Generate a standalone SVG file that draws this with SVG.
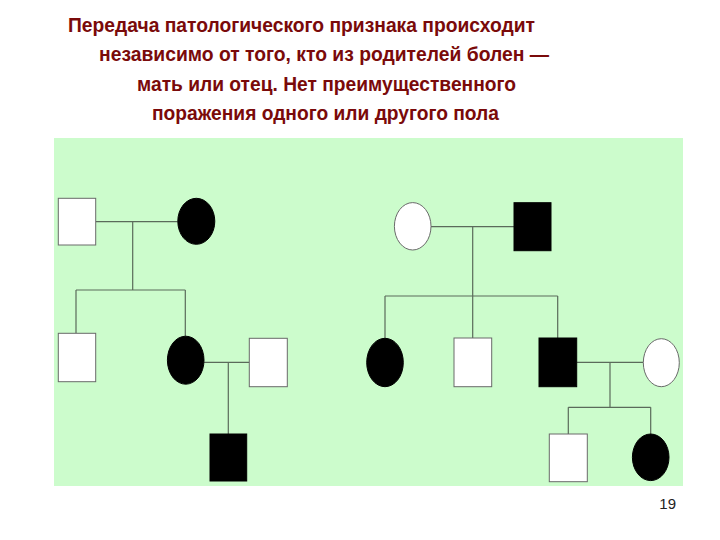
<svg xmlns="http://www.w3.org/2000/svg" width="720" height="540" viewBox="0 0 720 540">
<style>
.t{font-family:"Liberation Sans",Arial,sans-serif;font-weight:bold;font-size:19.4px;fill:#7a0a0a}
.ln{stroke:#5a6a5a;stroke-width:1.2;fill:none}
.w{fill:#fff;stroke:#6a6a6a;stroke-width:1}
.b{fill:#000;stroke:#000;stroke-width:1}
</style>
<rect width="720" height="540" fill="#fff"/>
<g id="title">
<text class="t" x="68" y="31.5" textLength="467" lengthAdjust="spacingAndGlyphs">Передача патологического признака происходит</text>
<text class="t" x="99" y="61" textLength="450" lengthAdjust="spacingAndGlyphs">независимо от того, кто из родителей болен —</text>
<text class="t" x="137" y="90.5" textLength="379" lengthAdjust="spacingAndGlyphs">мать или отец. Нет преимущественного</text>
<text class="t" x="152" y="120" textLength="347" lengthAdjust="spacingAndGlyphs">поражения одного или другого пола</text>
</g>
<rect id="panel" x="54" y="138" width="629" height="348" fill="#ccfccc"/>
<g id="connectors">
<path class="ln" d="M95.7 221.7H177.7M132.7 221.7V290M76 290H185.3M76 290V333.3M185.3 290V336.5"/>
<path class="ln" d="M204 362.3H249.3M228.3 362.3V434"/>
<path class="ln" d="M431 226.7H514M472.7 226.7V296M385 296H557.7M385 296V338.3M472.7 296V338M557.7 296V338"/>
<path class="ln" d="M576.7 362.3H643.3M610 362.3V407.3M568.3 407.3H650.7M568.3 407.3V434M650.7 407.3V434"/>
</g>
<g id="n1"><rect class="w" x="58.3" y="198.3" width="37.4" height="46.7"/></g>
<g id="n2"><ellipse class="b" cx="196.3" cy="221.3" rx="18.5" ry="23"/></g>
<g id="n3"><rect class="w" x="58.3" y="333.3" width="37.4" height="48.4"/></g>
<g id="n4"><ellipse class="b" cx="185.7" cy="360.2" rx="18.3" ry="24"/></g>
<g id="n5"><rect class="w" x="249.3" y="338.3" width="38" height="48.4"/></g>
<g id="n6"><rect class="b" x="210" y="434" width="36.7" height="47"/></g>
<g id="n7"><ellipse class="w" cx="412.7" cy="226.3" rx="18.3" ry="23.7"/></g>
<g id="n8"><rect class="b" x="514" y="202.7" width="37" height="48"/></g>
<g id="n9"><ellipse class="b" cx="385" cy="362.5" rx="18.3" ry="24.2"/></g>
<g id="n10"><rect class="w" x="454" y="338" width="37.7" height="48.7"/></g>
<g id="n11"><rect class="b" x="539" y="338" width="37.7" height="48.7"/></g>
<g id="n12"><ellipse class="w" cx="661.3" cy="362.7" rx="18" ry="24"/></g>
<g id="n13"><rect class="w" x="549.3" y="434" width="38" height="47.7"/></g>
<g id="n14"><ellipse class="b" cx="650.7" cy="457.3" rx="18.3" ry="23.3"/></g>
<text x="676" y="509.3" text-anchor="end" font-family="'Liberation Sans',Arial,sans-serif" font-size="15" fill="#222">19</text>
</svg>
